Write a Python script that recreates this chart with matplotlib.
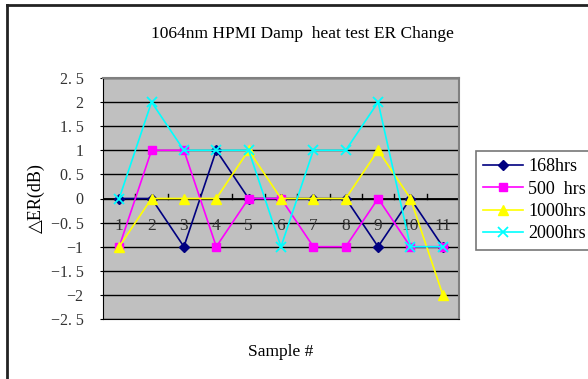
import matplotlib.pyplot as plt
from matplotlib.lines import Line2D

samples = [1, 2, 3, 4, 5, 6, 7, 8, 9, 10, 11]
er_168 = [0, 0, -1, 1, 0, 0, 0, 0, -1, 0, -1]
er_500 = [-1, 1, 1, -1, 0, 0, -1, -1, 0, -1, -1]
er_1000 = [-1, 0, 0, 0, 1, 0, 0, 0, 1, 0, -2]
er_2000 = [0, 2, 1, 1, 1, -1, 1, 1, 2, -1, -1]
y_ticks = [2.5, 2, 1.5, 1, 0.5, 0, -0.5, -1, -1.5, -2, -2.5]
y_labels = ['2. 5', '2', '1. 5', '1', '0. 5', '0', '\u22120. 5', '\u22121',
            '\u22121. 5', '\u22122', '\u22122. 5']

plt.rcParams['font.family'] = ['Liberation Serif', 'DejaVu Sans']

fig = plt.figure(figsize=(5.88, 3.79), dpi=100)
ax = fig.add_axes([103 / 588, 60 / 379, 356 / 588, 241 / 379])
ax.set_facecolor('#C0C0C0')

# outer chart frame (only left and top visible)
fig.add_artist(Line2D([7 / 588, 7 / 588], [0, 1 - 5 / 379], color='#222222', lw=2, transform=fig.transFigure))
fig.add_artist(Line2D([7 / 588, 1], [1 - 5 / 379, 1 - 5 / 379], color='#222222', lw=2, transform=fig.transFigure))

x = list(range(len(samples)))
for yv in y_ticks:
    ax.axhline(yv, color='black', lw=1, zorder=1)

ax.plot(x, er_168, color='#000080', marker='D', ms=5, lw=1.2, label='168hrs', zorder=3)
ax.plot(x, er_500, color='#FF00FF', marker='s', ms=6, lw=1.2, label='500  hrs', zorder=3)
ax.plot(x, er_1000, color='#FFFF00', marker='^', ms=7, lw=1.2, label='1000hrs', zorder=3)
ax.plot(x, er_2000, color='#00FFFF', marker='x', ms=7, mew=1.3, lw=1.2, label='2000hrs', zorder=4)

ax.set_xlim(-0.5, len(samples) - 0.5)
ax.set_ylim(-2.5, 2.5)
ax.set_yticks(y_ticks)
ax.set_yticklabels(y_labels, fontsize=11.5, color='#333333')
ax.tick_params(axis='y', length=2, direction='out', pad=12)
ax.set_xticks([])

# category axis crossing at zero
ax.axhline(0, color='black', lw=1.3, zorder=2)
for b in range(1, len(samples)):
    ax.plot([b - 0.5, b - 0.5], [0, 0.09], color='black', lw=1, zorder=2)
for xi, s in zip(x, samples):
    ax.text(xi, -0.58, str(s), ha='center', va='center', fontsize=12.5, color='#333333', zorder=2)

for side in ['top', 'right']:
    ax.spines[side].set_color('#808080')
    ax.spines[side].set_linewidth(1.5)
for side in ['left', 'bottom']:
    ax.spines[side].set_color('black')

ax.set_ylabel('\u25b3ER(dB)', fontsize=13, labelpad=4)
ax.set_xlabel('Sample #', fontsize=12.5, labelpad=18)
fig.text(302 / 588, 1 - 34 / 379, '1064nm HPMI Damp  heat test ER Change',
         ha='center', va='center', fontsize=12.5)

leg = ax.legend(loc='upper left', bbox_to_anchor=(476 / 588, 1 - 151 / 379), bbox_transform=fig.transFigure,
                fontsize=13, frameon=True, fancybox=False, edgecolor='#555555', borderaxespad=0,
                handlelength=2.2, labelspacing=0.3, handletextpad=0.3, borderpad=0.4)
leg.get_frame().set_linewidth(1.2)

fig.savefig('out.png', dpi=100)
